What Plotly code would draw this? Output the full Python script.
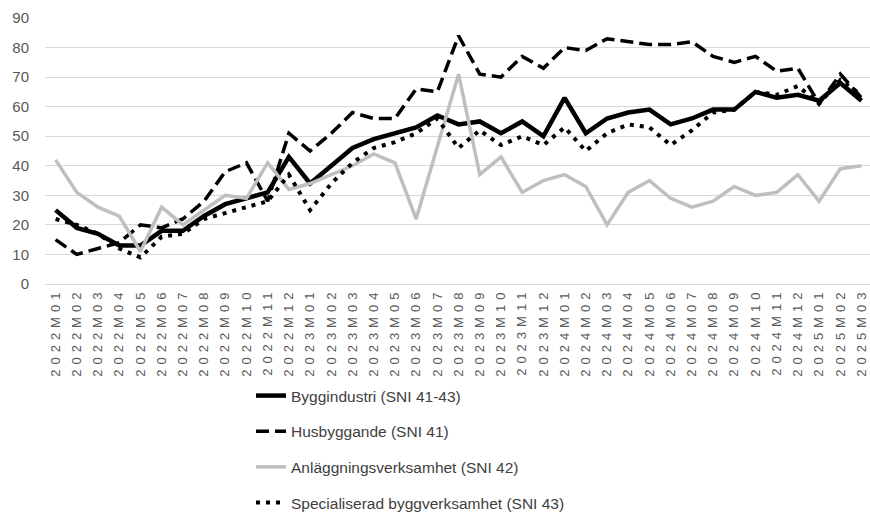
import plotly.graph_objects as go

months = [f"{y}M{m:02d}" for y, ms in ((2022, range(1, 13)), (2023, range(1, 13)), (2024, range(1, 13)), (2025, range(1, 4))) for m in ms]

byggindustri = [25, 19, 17, 13, 13, 18, 18, 23, 27, 29, 31, 43,
                34, 40, 46, 49, 51, 53, 57, 54, 55, 51, 55, 50,
                63, 51, 56, 58, 59, 54, 56, 59, 59, 65, 63, 64,
                62, 68, 62]
husbyggande = [15, 10, 12, 14, 20, 19, 22, 28, 38, 41, 28, 51,
               45, 51, 58, 56, 56, 66, 65, 84, 71, 70, 77, 73,
               80, 79, 83, 82, 81, 81, 82, 77, 75, 77, 72, 73,
               61, 71, 63]
anlaggning = [42, 31, 26, 23, 11, 26, 20, 25, 30, 29, 41, 32,
              34, 37, 40, 44, 41, 22, 46, 71, 37, 43, 31, 35,
              37, 33, 20, 31, 35, 29, 26, 28, 33, 30, 31, 37,
              28, 39, 40]
specialiserad = [22, 20, 17, 12, 9, 16, 17, 22, 24, 26, 28, 37,
                 25, 34, 41, 46, 48, 51, 56, 46, 52, 47, 50, 47,
                 53, 45, 51, 54, 53, 47, 52, 58, 59, 65, 64, 67,
                 61, 69, 64]

series = [
    ("Byggindustri (SNI 41-43)", byggindustri, dict(color="#000000", width=4.5, dash="solid")),
    ("Husbyggande (SNI 41)", husbyggande, dict(color="#000000", width=3.5, dash="13px,6px")),
    ("Anläggningsverksamhet (SNI 42)", anlaggning, dict(color="#BFBFBF", width=3.5, dash="solid")),
    ("Specialiserad byggverksamhet (SNI 43)", specialiserad, dict(color="#000000", width=4, dash="4px,6px")),
]

fig = go.Figure()
for i, (name, vals, line) in enumerate(series):
    fig.add_trace(go.Scatter(x=months, y=vals, name=name, mode="lines", line=line,
                             legendgroup=f"g{i}"))

fig.update_layout(
    width=870, height=515,
    margin=dict(l=45, r=0, t=18, b=231, autoexpand=False),
    plot_bgcolor="white", paper_bgcolor="white",
    font=dict(family="Liberation Sans, Arial, sans-serif", color="#595959"),
    showlegend=True,
    legend=dict(xref="container", yref="container", x=251 / 870, y=1 - 379 / 515,
                xanchor="left", yanchor="top", orientation="v",
                font=dict(size=15.5, color="#404040"), tracegroupgap=12.5,
                bgcolor="rgba(0,0,0,0)"),
    xaxis=dict(type="category", tickangle=-90, tickfont=dict(size=13, color="#595959"),
               showgrid=False, showline=False, ticks="", range=[-0.5, 38.4]),
    yaxis=dict(range=[0, 90], dtick=10, tickfont=dict(size=15, color="#595959"),
               showgrid=True, gridcolor="#D9D9D9", gridwidth=1, zeroline=True,
               zerolinecolor="#D9D9D9", zerolinewidth=1, ticks="", ticklabelstandoff=15),
)

post = ("document.body.style.margin='0';"
        "document.querySelectorAll('.xtick text').forEach(function(t){t.style.letterSpacing='5px';});")
fig.write_html("out.html", post_script=post, config={"displayModeBar": False})
